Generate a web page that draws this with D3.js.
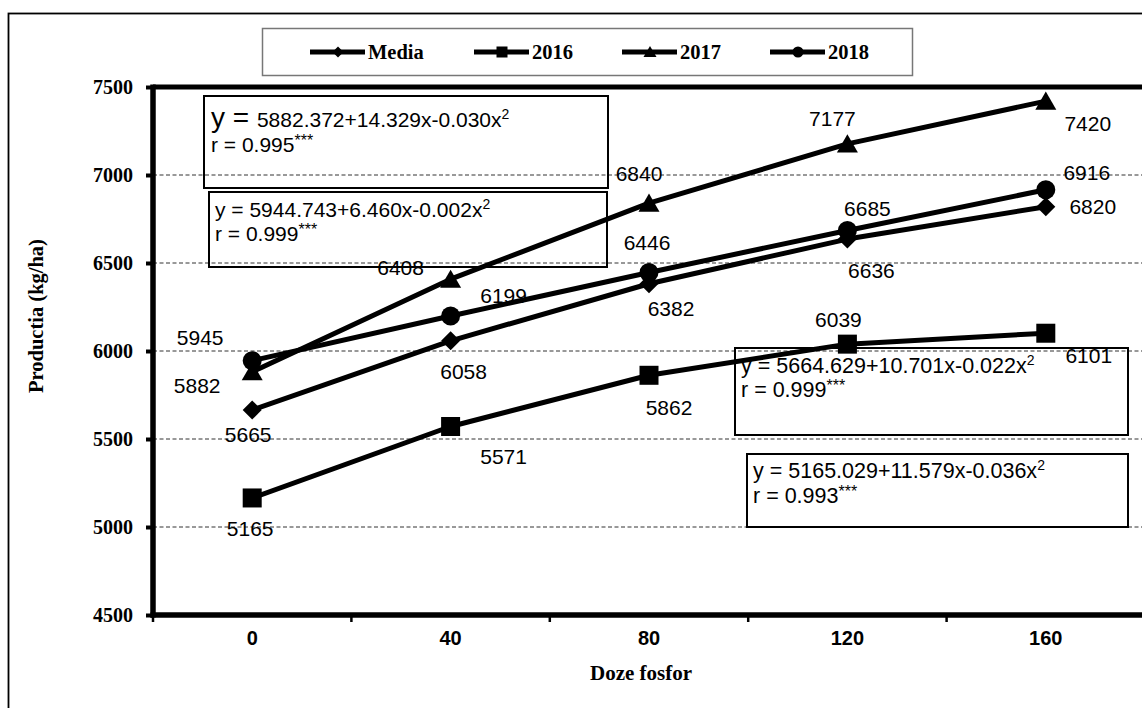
<!DOCTYPE html>
<html>
<head>
<meta charset="utf-8">
<script src="https://cdn.jsdelivr.net/npm/d3@7"></script>
<style>
  body { margin: 0; background: #fff; }
  svg { display: block; }
</style>
</head>
<body>
<svg id="chart" width="1142" height="708"></svg>
<script>
// Phosphorus doses (kg/ha) and yields (kg/ha)
const doses = ["0", "40", "80", "120", "160"];
const seriesNames = ["Media", "2016", "2017", "2018"];
const media = [5665, 6058, 6382, 6636, 6820];
const y2016 = [5165, 5571, 5862, 6039, 6101];
const y2017 = [5882, 6408, 6840, 7177, 7420];
const y2018 = [5945, 6199, 6446, 6685, 6916];
const yTicks = [4500, 5000, 5500, 6000, 6500, 7000, 7500];
const gridValues = [5000, 5500, 6000, 6500, 7000];

// Quadratic regression equations and correlation coefficients
const equations = ["5882.372+14.329x-0.030x", "5944.743+6.460x-0.002x", "5664.629+10.701x-0.022x", "5165.029+11.579x-0.036x"];
const correlations = ["0.995", "0.999", "0.999", "0.993"];

// ---- layout ----
const W = 1142, H = 708;
const plot = { left: 153, top: 87, right: 1145, bottom: 615 };
const markerTypes = ["diamond", "square", "triangle", "circle"];
// value label offsets from each point (dx, dy) per series
const labelOffsets = [
  [[-4, 24], [13, 31], [22, 25], [24, 31], [47, 0]],
  [[-2, 30], [53, 30], [20, 32], [-9, -25], [43, 22]],
  [[-55, 14], [-50, -12], [-10, -30], [-15, -25], [42, 22]],
  [[-52, -23], [53, -21], [-2, -30], [20, -22], [41, -17]]
];
const eqBoxes = [
  { x: 204, y: 96, w: 404, h: 92, tx: 211, b1: 127, b2: 152, big: true, fs: 21 },
  { x: 209, y: 192, w: 398, h: 75, tx: 215, b1: 217, b2: 241, fs: 21 },
  { x: 735, y: 348, w: 393, h: 87, tx: 741, b1: 373, b2: 397, fs: 21.5 },
  { x: 747, y: 454, w: 381, h: 73, tx: 753, b1: 478, b2: 503, fs: 21.5 }
];
const legendItemX = [310, 474, 622, 770];

const serif = "'Liberation Serif', 'Times New Roman', serif";
const sans = "'Liberation Sans', Arial, sans-serif";

const svg = d3.select("#chart");
svg.append("rect").attr("width", W).attr("height", H).attr("fill", "#fff");

// outer chart frame
svg.append("rect")
  .attr("x", 8.5).attr("y", 13.5).attr("width", W + 20).attr("height", H + 20)
  .attr("fill", "none").attr("stroke", "#000").attr("stroke-width", 1.8);

const x = d3.scaleBand().domain(doses).range([plot.left, plot.right]).padding(0);
const y = d3.scaleLinear().domain([4500, 7500]).range([plot.bottom, plot.top]);
const cx = d => x(d) + x.bandwidth() / 2;

// dashed gridlines
svg.append("g").selectAll("line").data(gridValues).join("line")
  .attr("x1", plot.left).attr("x2", plot.right)
  .attr("y1", d => y(d)).attr("y2", d => y(d))
  .attr("stroke", "#333").attr("stroke-width", 1)
  .attr("stroke-dasharray", "4,2.5");

// top border of the plot area
svg.append("line")
  .attr("x1", plot.left).attr("x2", plot.right + 5)
  .attr("y1", plot.top).attr("y2", plot.top)
  .attr("stroke", "#000").attr("stroke-width", 5);

// y axis
const yAxis = svg.append("g")
  .attr("transform", `translate(${plot.left},0)`)
  .call(d3.axisLeft(y).tickValues(yTicks).tickSize(7).tickPadding(13).tickFormat(d3.format("d")));
yAxis.select(".domain").attr("stroke", "#000").attr("stroke-width", 5.5)
  .attr("d", `M0,${plot.top - 2.5}V${plot.bottom + 2.5}`);
yAxis.selectAll(".tick line").attr("stroke", "#000").attr("stroke-width", 4);
yAxis.selectAll(".tick text")
  .attr("font-family", serif).attr("font-weight", "bold").attr("font-size", 20)
  .attr("fill", "#000");

// x axis with ticks on the category boundaries
const xAxis = svg.append("g")
  .attr("transform", `translate(0,${plot.bottom})`)
  .call(d3.axisBottom(x).tickSize(0).tickPadding(16));
xAxis.select(".domain").attr("stroke", "#000").attr("stroke-width", 5.5)
  .attr("d", `M${plot.left - 2.5},0H${plot.right}`);
xAxis.selectAll(".tick text")
  .attr("font-family", sans).attr("font-weight", "bold").attr("font-size", 20)
  .attr("fill", "#000");
xAxis.append("g").selectAll("line").data(doses).join("line")
  .attr("x1", d => x(d)).attr("x2", d => x(d))
  .attr("y1", 0).attr("y2", 7)
  .attr("stroke", "#000").attr("stroke-width", 2.5);

// axis titles
svg.append("text")
  .attr("x", 641).attr("y", 680)
  .attr("text-anchor", "middle")
  .attr("font-family", serif).attr("font-weight", "bold").attr("font-size", 21)
  .text("Doze fosfor");
svg.append("text")
  .attr("transform", "translate(43,393) rotate(-90)")
  .attr("text-anchor", "start")
  .attr("font-family", serif).attr("font-weight", "bold").attr("font-size", 20.5)
  .text("Productia (kg/ha)");

// marker drawing
function marker(sel, type, s) {
  if (type === "circle") {
    sel.append("circle").attr("r", s / 2);
  } else if (type === "square") {
    sel.append("rect").attr("x", -s / 2).attr("y", -s / 2).attr("width", s).attr("height", s);
  } else if (type === "triangle") {
    const h = s * 0.9;
    sel.append("path").attr("d", `M0,${-h / 2 - 1}L${s / 2 + 1},${h / 2}L${-s / 2 - 1},${h / 2}Z`);
  } else {
    sel.append("path").attr("d", `M0,${-s / 2}L${s / 2},0L0,${s / 2}L${-s / 2},0Z`);
  }
}

const allSeries = [media, y2016, y2017, y2018];
const line = d3.line().x((d, i) => cx(doses[i])).y(d => y(d));

allSeries.forEach((vals, si) => {
  svg.append("path")
    .attr("d", line(vals))
    .attr("fill", "none").attr("stroke", "#000")
    .attr("stroke-width", 5).attr("stroke-linejoin", "round");
  const g = svg.append("g").attr("fill", "#000");
  vals.forEach((v, i) => {
    const m = g.append("g").attr("transform", `translate(${cx(doses[i])},${y(v)})`);
    marker(m, markerTypes[si], 19);
  });
});

// value labels
allSeries.forEach((vals, si) => {
  svg.append("g").selectAll("text").data(vals).join("text")
    .attr("x", (d, i) => cx(doses[i]) + labelOffsets[si][i][0])
    .attr("y", (d, i) => y(d) + labelOffsets[si][i][1])
    .attr("dy", "0.36em")
    .attr("text-anchor", "middle")
    .attr("font-family", sans).attr("font-size", 21)
    .attr("fill", "#000")
    .text(d => d3.format("d")(d));
});

// regression equation boxes
eqBoxes.forEach((b, i) => {
  svg.append("rect")
    .attr("x", b.x).attr("y", b.y).attr("width", b.w).attr("height", b.h)
    .attr("fill", "none").attr("stroke", "#000").attr("stroke-width", 2);
  const t1 = svg.append("text").attr("x", b.tx).attr("y", b.b1)
    .attr("font-family", sans).attr("font-size", b.fs).attr("fill", "#000");
  t1.append("tspan").attr("font-size", b.big ? 28 : b.fs).text("y = ");
  t1.append("tspan").text(equations[i]);
  t1.append("tspan").attr("font-size", 14).attr("dy", -8).text("2");
  const t2 = svg.append("text").attr("x", b.tx).attr("y", b.b2)
    .attr("font-family", sans).attr("font-size", b.fs).attr("fill", "#000");
  t2.append("tspan").text("r = " + correlations[i]);
  t2.append("tspan").attr("font-size", 16).attr("dy", -6).text("***");
});

// legend
const lg = svg.append("g");
lg.append("rect")
  .attr("x", 262.5).attr("y", 28.5).attr("width", 650).attr("height", 47)
  .attr("fill", "#fff").attr("stroke", "#777").attr("stroke-width", 1.5);
seriesNames.forEach((name, i) => {
  const lx = legendItemX[i], ly = 52;
  lg.append("line")
    .attr("x1", lx).attr("x2", lx + 55).attr("y1", ly).attr("y2", ly)
    .attr("stroke", "#000").attr("stroke-width", 5);
  const m = lg.append("g").attr("transform", `translate(${lx + 28},${ly})`).attr("fill", "#000");
  marker(m, markerTypes[i], 11);
  lg.append("text")
    .attr("x", lx + 58).attr("y", 59)
    .attr("font-family", serif).attr("font-weight", "bold").attr("font-size", 20.5)
    .attr("fill", "#000")
    .text(name);
});
</script>
</body>
</html>
